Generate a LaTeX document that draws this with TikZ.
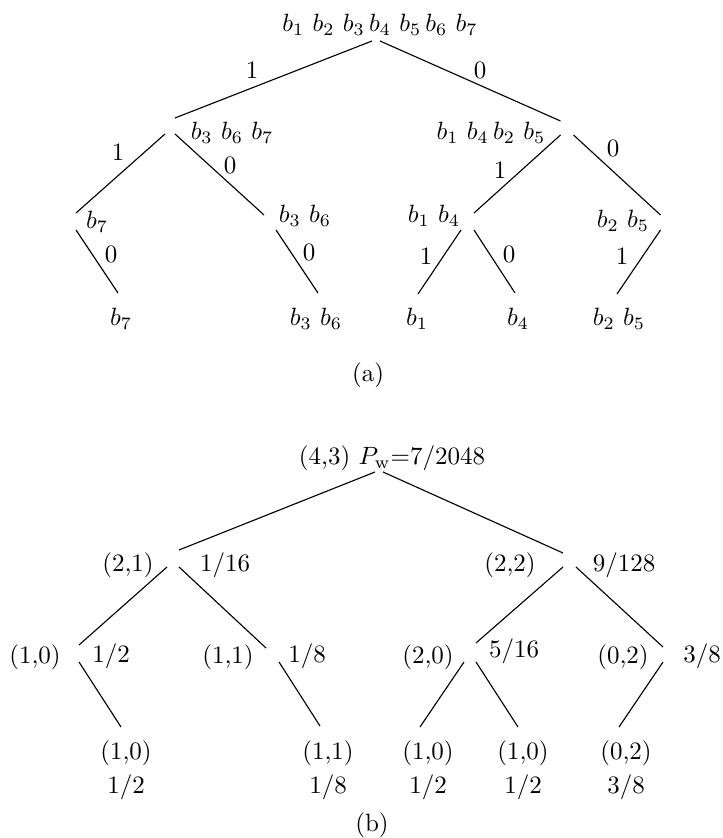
\documentclass[tikz,border=0pt]{standalone}
\begin{document}
\begin{tikzpicture}[x=0.4pt,y=-0.4pt,line width=0.45pt,
  junc/.style={rectangle,draw=none,inner sep=0pt,outer sep=0pt},
  lbl/.style={inner sep=0pt,outer sep=0pt}]
\useasboundingbox (0,0) rectangle (722,838);
% ---------- (a) junctions
\node[junc,minimum width=3.2pt,minimum height=4.8pt] (R) at (376,35) {};
\node[junc,minimum width=4pt,minimum height=6.4pt] (A1) at (170,126) {};
\node[junc,minimum width=5.2pt,minimum height=5.6pt] (A2) at (567,128) {};
\node[junc,minimum width=4pt,minimum height=6.8pt] (A11) at (71,221.5) {};
\node[junc,minimum width=4.8pt,minimum height=6pt] (A12) at (270,222.5) {};
\node[junc,minimum width=5.2pt,minimum height=6.8pt] (A21) at (467.5,221.5) {};
\node[junc,minimum width=4.4pt,minimum height=6pt] (A22) at (666,222.5) {};
\coordinate (La1) at (118,293);
\coordinate (La2) at (318,293);
\coordinate (La3) at (418,294);
\coordinate (La4) at (515,293);
\coordinate (La5) at (617,294);
\draw (R.south west) -- (A1.north east);
\draw (R.south east) -- (A2.north west);
\draw (A1.south west) -- (A11.north east);
\draw (A1.south east) -- (A12.north west);
\draw (A2.south west) -- (A21.north east);
\draw (A2.south east) -- (A22.north west);
\draw (A11.south east) -- (La1);
\draw (A12.south east) -- (La2);
\draw (A21.south west) -- (La3);
\draw (A21.south east) -- (La4);
\draw (A22.south west) -- (La5);
% (a) labels
\node[lbl] (tR) at (380,25) {$b_1\ b_2\ b_3\,b_4\ b_5\,b_6\ b_7$};
\node[lbl] (e1) at (252,70) {1};
\node[lbl] (e2) at (480,70) {0};
\node[lbl] (tA1) at (232,133) {$b_3\ b_6\ b_7$};
\node[lbl] (tA2) at (491,133) {$b_1\ b_4\,b_2\ b_5$};
\node[lbl] (e3) at (118,152) {1};
\node[lbl] (e4) at (230,165) {0};
\node[lbl] (e5) at (500,170) {1};
\node[lbl] (e6) at (613,148) {0};
\node[lbl] (tA11) at (97,222) {$b_7$};
\node[lbl] (tA12) at (305,216) {$b_3\ b_6$};
\node[lbl] (tA21) at (434,216) {$b_1\ b_4$};
\node[lbl] (tA22) at (623,221) {$b_2\ b_5$};
\node[lbl] (e7) at (111,254) {0};
\node[lbl] (e8) at (309,252) {0};
\node[lbl] (e9) at (426,256) {1};
\node[lbl] (e10) at (509,254) {0};
\node[lbl] (e11) at (622,256) {1};
\node[lbl] (tLa1) at (121,319) {$b_7$};
\node[lbl] (tLa2) at (316,319) {$b_3\ b_6$};
\node[lbl] (tLa3) at (417,319) {$b_1$};
\node[lbl] (tLa4) at (518,319) {$b_4$};
\node[lbl] (tLa5) at (619,319) {$b_2\ b_5$};
\node[lbl] (capa) at (368,375) {(a)};
% ---------- (b) junctions
\node[junc,minimum width=3.2pt,minimum height=4.8pt] (BR) at (379,466) {};
\node[junc,minimum width=4.8pt,minimum height=6.8pt] (B1) at (173,558.5) {};
\node[junc,minimum width=5.2pt,minimum height=5.6pt] (B2) at (569.5,560) {};
\node[junc,minimum width=4pt,minimum height=6.8pt] (B11) at (74,653.5) {};
\node[junc,minimum width=5.2pt,minimum height=5.6pt] (B12) at (272.5,655) {};
\node[junc,minimum width=4.8pt,minimum height=7.6pt] (B21) at (470,652.5) {};
\node[junc,minimum width=4pt,minimum height=6pt] (B22) at (668,654.5) {};
\coordinate (Lb1) at (121,727);
\coordinate (Lb2) at (320,726);
\coordinate (Lb3) at (420,727);
\coordinate (Lb4) at (518,727);
\coordinate (Lb5) at (619,727);
\draw (BR.south west) -- (B1.north east);
\draw (BR.south east) -- (B2.north west);
\draw (B1.south west) -- (B11.north east);
\draw (B1.south east) -- (B12.north west);
\draw (B2.south west) -- (B21.north east);
\draw (B2.south east) -- (B22.north west);
\draw (B11.south east) -- (Lb1);
\draw (B12.south east) -- (Lb2);
\draw (B21.south west) -- (Lb3);
\draw (B21.south east) -- (Lb4);
\draw (B22.south west) -- (Lb5);
% (b) labels
\node[lbl] (tBR) at (392,458) {(4,3) $P_{\mathrm{w}}$=7/2048};
\node[lbl] (tB1) at (128,565) {(2,1)};
\node[lbl] (pB1) at (225,565) {1/16};
\node[lbl] (tB2) at (510,565) {(2,2)};
\node[lbl] (pB2) at (624,565) {9/128};
\node[lbl] (tB11) at (35,657) {(1,0)};
\node[lbl] (pB11) at (111,656) {1/2};
\node[lbl] (tB12) at (228,657) {(1,1)};
\node[lbl] (pB12) at (307,656) {1/8};
\node[lbl] (tB21) at (428,657) {(2,0)};
\node[lbl] (pB21) at (514,651) {5/16};
\node[lbl] (tB22) at (623,657) {(0,2)};
\node[lbl] (pB22) at (702,656) {3/8};
\node[lbl] (tLb1) at (126,753) {(1,0)};
\node[lbl] (pLb1) at (126,787) {1/2};
\node[lbl] (tLb2) at (328,753) {(1,1)};
\node[lbl] (pLb2) at (328,787) {1/8};
\node[lbl] (tLb3) at (428,753) {(1,0)};
\node[lbl] (pLb3) at (428,787) {1/2};
\node[lbl] (tLb4) at (523,753) {(1,0)};
\node[lbl] (pLb4) at (523,787) {1/2};
\node[lbl] (tLb5) at (626,753) {(0,2)};
\node[lbl] (pLb5) at (626,787) {3/8};
\node[lbl] (capb) at (372,825) {(b)};
\end{tikzpicture}
\end{document}
